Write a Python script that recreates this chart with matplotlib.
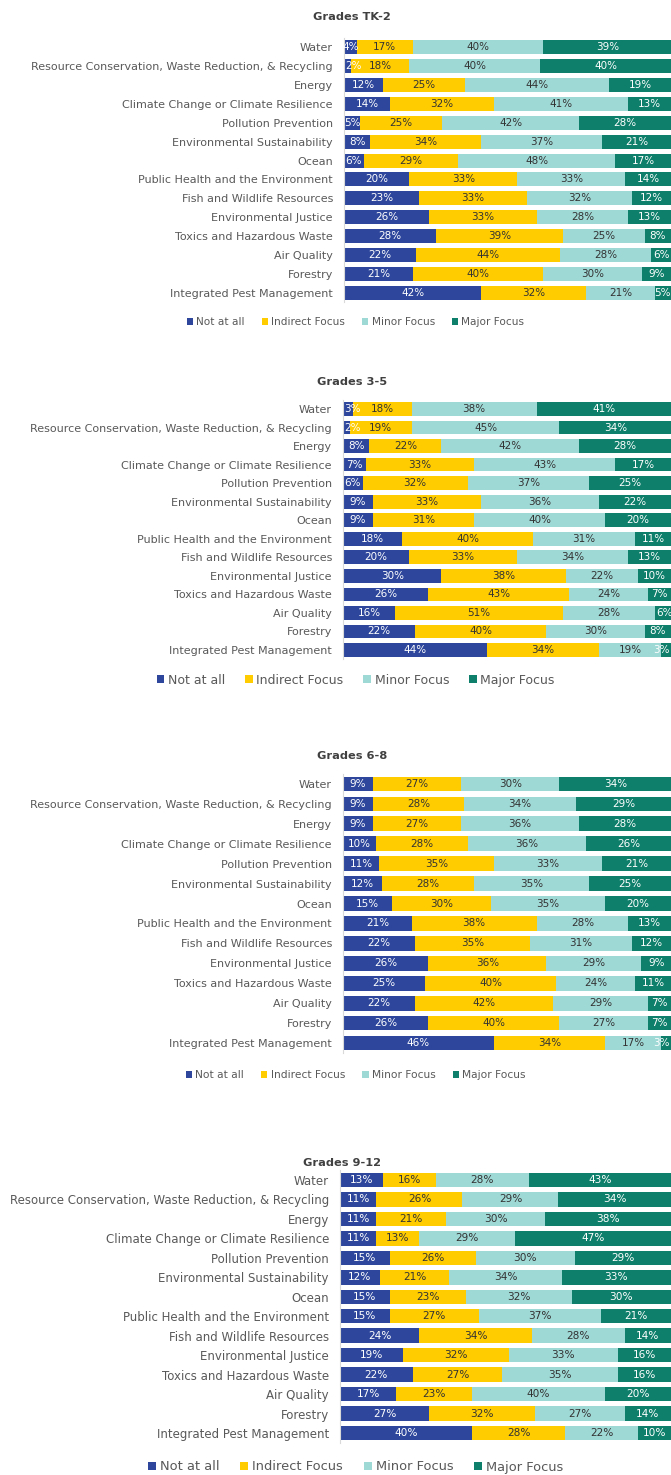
import matplotlib
matplotlib.use("Agg")
import matplotlib.pyplot as plt
import numpy as np

W, H = 671, 1475

topics = [
    "Water",
    "Resource Conservation, Waste Reduction, & Recycling",
    "Energy",
    "Climate Change or Climate Resilience",
    "Pollution Prevention",
    "Environmental Sustainability",
    "Ocean",
    "Public Health and the Environment",
    "Fish and Wildlife Resources",
    "Environmental Justice",
    "Toxics and Hazardous Waste",
    "Air Quality",
    "Forestry",
    "Integrated Pest Management",
]
levels = ["Not at all", "Indirect Focus", "Minor Focus", "Major Focus"]

# percent of respondents per topic, in the order of `topics`
tk2_not      = [4, 2, 12, 14, 5, 8, 6, 20, 23, 26, 28, 22, 21, 42]
tk2_indirect = [17, 18, 25, 32, 25, 34, 29, 33, 33, 33, 39, 44, 40, 32]
tk2_minor    = [40, 40, 44, 41, 42, 37, 48, 33, 32, 28, 25, 28, 30, 21]
tk2_major    = [39, 40, 19, 13, 28, 21, 17, 14, 12, 13, 8, 6, 9, 5]

g35_not      = [3, 2, 8, 7, 6, 9, 9, 18, 20, 30, 26, 16, 22, 44]
g35_indirect = [18, 19, 22, 33, 32, 33, 31, 40, 33, 38, 43, 51, 40, 34]
g35_minor    = [38, 45, 42, 43, 37, 36, 40, 31, 34, 22, 24, 28, 30, 19]
g35_major    = [41, 34, 28, 17, 25, 22, 20, 11, 13, 10, 7, 6, 8, 3]

g68_not      = [9, 9, 9, 10, 11, 12, 15, 21, 22, 26, 25, 22, 26, 46]
g68_indirect = [27, 28, 27, 28, 35, 28, 30, 38, 35, 36, 40, 42, 40, 34]
g68_minor    = [30, 34, 36, 36, 33, 35, 35, 28, 31, 29, 24, 29, 27, 17]
g68_major    = [34, 29, 28, 26, 21, 25, 20, 13, 12, 9, 11, 7, 7, 3]

g912_not      = [13, 11, 11, 11, 15, 12, 15, 15, 24, 19, 22, 17, 27, 40]
g912_indirect = [16, 26, 21, 13, 26, 21, 23, 27, 34, 32, 27, 23, 32, 28]
g912_minor    = [28, 29, 30, 29, 30, 34, 32, 37, 28, 33, 35, 40, 27, 22]
g912_major    = [43, 34, 38, 47, 29, 33, 30, 21, 14, 16, 16, 20, 14, 10]

panels = [
    ("Grades TK-2", [tk2_not, tk2_indirect, tk2_minor, tk2_major]),
    ("Grades 3-5", [g35_not, g35_indirect, g35_minor, g35_major]),
    ("Grades 6-8", [g68_not, g68_indirect, g68_minor, g68_major]),
    ("Grades 9-12", [g912_not, g912_indirect, g912_minor, g912_major]),
]

colors = ["#2E479C", "#FFCC00", "#9FD9D6", "#0E7F6B"]
value_colors = ["white", "#333333", "#333333", "white"]
grey = "#595959"

# pixel layout: title x/y, first row y, last row y, legend y, bar left x,
# label size, value size, legend size
layout = [
    (352, 17, 47, 293, 322, 344, 8.0, 7.5, 7.6),
    (352, 382, 409, 650, 680, 343, 8.0, 7.5, 9.0),
    (352, 756, 784, 1043, 1075, 343, 8.05, 7.5, 7.7),
    (342, 1163, 1180, 1433, 1467, 340, 8.5, 7.6, 9.4),
]

plt.rcParams["font.family"] = ["DejaVu Sans"]
fig = plt.figure(figsize=(W / 100, H / 100), dpi=100)

n = len(topics)
y = np.arange(n)

for (title, series), (tx, ty, r0, r1, ly, lx, lab_fs, val_fs, leg_fs) in zip(panels, layout):
    step = (r1 - r0) / (n - 1)
    top = r0 - step / 2
    bottom = r1 + step / 2
    ax = fig.add_axes([lx / W, 1 - bottom / H, 1 - lx / W, (bottom - top) / H])

    left = np.zeros(n)
    handles = []
    for k, (vals, level, c, vc) in enumerate(zip(series, levels, colors, value_colors)):
        vals = np.array(vals, dtype=float)
        bars = ax.barh(y, vals, left=left, height=0.74, color=c, label=level)
        handles.append(bars)
        for yi, (l0, v) in enumerate(zip(left, vals)):
            # narrow segments at either end keep their label inside the plot
            if k == 0 and v < 4:
                xpos, ha = l0 + 0.4, "left"
            elif k == len(series) - 1 and v < 4:
                xpos, ha = min(l0 + v, 100) - 0.4, "right"
            else:
                xpos, ha = l0 + v / 2, "center"
            ax.text(xpos, yi, f"{v:.0f}%", ha=ha, va="center",
                    color=vc, fontsize=val_fs)
        left += vals

    ax.set_xlim(0, 100)
    ax.set_ylim(n - 0.5, -0.5)
    ax.set_yticks(y)
    ax.set_yticklabels(topics, fontsize=lab_fs, color=grey)
    ax.tick_params(axis="y", length=0, pad=8)
    ax.set_xticks([])
    for s in ["top", "right", "bottom"]:
        ax.spines[s].set_visible(False)
    ax.spines["left"].set_color("#D9D9D9")
    ax.spines["left"].set_linewidth(0.8)

    fig.text(tx / W, 1 - ty / H, title, ha="center", va="center",
             fontsize=8.2, fontweight="bold", color="#404040")

    fig.legend(handles=handles, labels=levels, loc="center",
               bbox_to_anchor=(0.53, 1 - ly / H), ncol=4, frameon=False,
               fontsize=leg_fs, labelcolor=grey, handlelength=0.6, handleheight=0.6,
               handletextpad=0.3, columnspacing=1.6, borderaxespad=0)

fig.savefig("out.png", dpi=100)
